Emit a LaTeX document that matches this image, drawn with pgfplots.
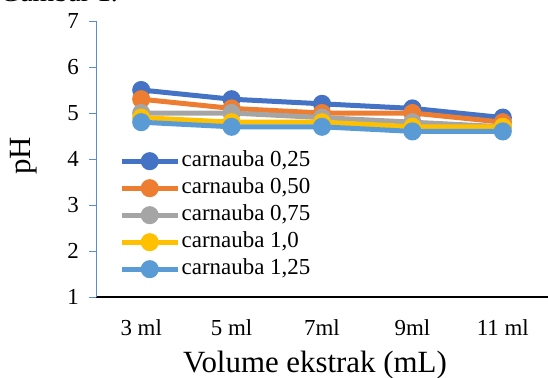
\documentclass[border=0pt]{standalone}
\usepackage{fontspec}
\setmainfont{Liberation Serif}
\usepackage{pgfplots}
\pgfplotsset{compat=1.18}
\definecolor{cA}{HTML}{4472C4}
\definecolor{cB}{HTML}{ED7D31}
\definecolor{cC}{HTML}{A5A5A5}
\definecolor{cD}{HTML}{FFC000}
\definecolor{cE}{HTML}{5B9BD5}
\definecolor{axblue}{HTML}{5B8BD0}
\begin{document}
\begin{tikzpicture}
\begin{scope}
\clip (0,300bp) rectangle (548bp,378bp);
\node[anchor=base west, inner sep=0pt, font=\fontsize{28}{28}\selectfont] at (0bp,376.3bp) {Gambar 1.};
\end{scope}
\begin{axis}[
  at={(96bp,81bp)}, anchor=south west,
  scale only axis, width=452bp, height=276bp,
  xmin=-0.5, xmax=4.5, ymin=1, ymax=7,
  xtick={0,1,2,3,4}, xticklabels={3 ml,5 ml,7ml,9ml,11 ml},
  ytick={1,2,3,4,5,6,7},
  axis x line*=bottom, axis y line*=left,
  x axis line style={black, line width=1.3bp, -},
  y axis line style={axblue, line width=1bp, -},
  tick align=outside, major tick length=6.7bp,
  xtick style={draw=none},
  ytick style={axblue, line width=1bp},
  /pgf/number format/assume math mode=true,
  tick label style={font=\fontsize{23}{23}\selectfont, black},
  xticklabel style={anchor=center, yshift=-24bp},
  yticklabel style={anchor=east, xshift=-7bp},
  ylabel={pH},
  ylabel style={at={(axis description cs:-0.16,0.512)}, anchor=center, font=\fontsize{31}{31}\selectfont},
  xlabel={Volume ekstrak (mL)},
  xlabel style={at={(axis description cs:0.4845,-0.2464)}, anchor=center, font=\fontsize{31}{31}\selectfont},
  every axis plot/.append style={line width=5bp, mark=*, mark size=6.5bp},
  legend image code/.code={\draw[mark repeat=2, mark phase=2, #1] plot coordinates {(0bp,0bp) (28bp,0bp) (56bp,0bp)};},
  legend cell align=left,
  legend style={at={(axis description cs:0.051,0.5345)}, anchor=north west, draw=none, fill=none,
    font=\fontsize{23}{23}\selectfont, inner sep=0pt, row sep=4bp,
    nodes={inner sep=1.5bp, text height=15bp, text depth=5bp}},
  clip=false,
]
\addplot[color=cA] coordinates {(0,5.5) (1,5.3) (2,5.2) (3,5.1) (4,4.9)};
\addlegendentry{carnauba 0,25}
\addplot[color=cB] coordinates {(0,5.3) (1,5.1) (2,5.0) (3,5.0) (4,4.8)};
\addlegendentry{carnauba 0,50}
\addplot[color=cC] coordinates {(0,5.0) (1,5.0) (2,4.9) (3,4.8) (4,4.7)};
\addlegendentry{carnauba 0,75}
\addplot[color=cD] coordinates {(0,4.9) (1,4.8) (2,4.8) (3,4.7) (4,4.7)};
\addlegendentry{carnauba 1,0}
\addplot[color=cE] coordinates {(0,4.8) (1,4.7) (2,4.7) (3,4.6) (4,4.6)};
\addlegendentry{carnauba 1,25}
\end{axis}
\pgfresetboundingbox
\path[use as bounding box] (0,0) rectangle (548bp,378bp);
\end{tikzpicture}
\end{document}
